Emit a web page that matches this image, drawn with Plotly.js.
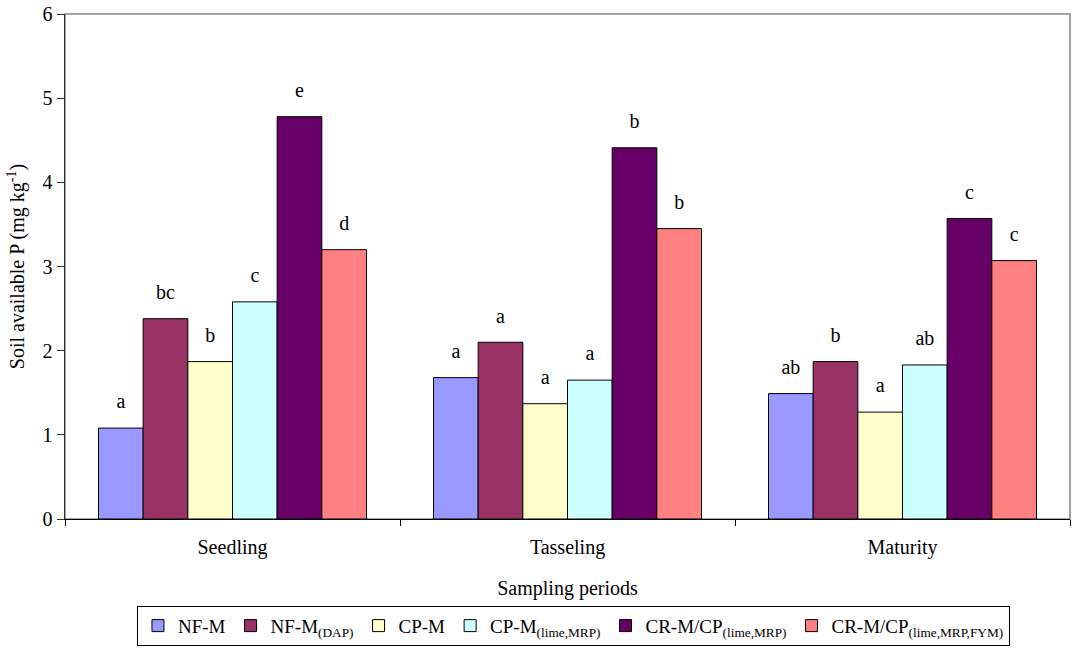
<!DOCTYPE html>
<html>
<head>
<meta charset="utf-8">
<script src="https://cdn.plot.ly/plotly-3.0.1.min.js"></script>
<style>html,body{margin:0;padding:0;background:#fff;}#chart{width:1088px;height:649px;}</style>
</head>
<body>
<div id="chart"></div>
<script>
const categories = ["Seedling", "Tasseling", "Maturity"];
const seriesNames = ["NF-M", "NF-M<sub>(DAP)</sub>", "CP-M", "CP-M<sub>(lime,MRP)</sub>", "CR-M/CP<sub>(lime,MRP)</sub>", "CR-M/CP<sub>(lime,MRP,FYM)</sub>"];
const nfM      = [1.08, 1.68, 1.49];
const nfMDap   = [2.38, 2.10, 1.87];
const cpM      = [1.87, 1.37, 1.27];
const cpMLime  = [2.58, 1.65, 1.83];
const crMCp    = [4.78, 4.41, 3.57];
const crMCpFym = [3.20, 3.45, 3.07];
const lettersNfM      = ["a", "a", "ab"];
const lettersNfMDap   = ["bc", "a", "b"];
const lettersCpM      = ["b", "a", "a"];
const lettersCpMLime  = ["c", "a", "ab"];
const lettersCrMCp    = ["e", "b", "c"];
const lettersCrMCpFym = ["d", "b", "c"];
const yTicks = [0, 1, 2, 3, 4, 5, 6];

const values = [nfM, nfMDap, cpM, cpMLime, crMCp, crMCpFym];
const letters = [lettersNfM, lettersNfMDap, lettersCpM, lettersCpMLime, lettersCrMCp, lettersCrMCpFym];
const colors = ["#9999FF", "#993366", "#FFFFCC", "#CCFFFF", "#660066", "#FF8080"];
const font = "Liberation Serif, Times New Roman, serif";

const traces = [];
values.forEach((v, i) => {
  traces.push({
    type: "bar", x: categories, y: v, name: seriesNames[i],
    offsetgroup: "g" + i, alignmentgroup: "a",
    marker: {color: colors[i], line: {color: "#000", width: 1}},
    hoverinfo: "skip"
  });
});
values.forEach((v, i) => {
  traces.push({
    type: "scatter", mode: "markers+text", x: categories, y: v,
    offsetgroup: "g" + i, alignmentgroup: "a",
    text: letters[i], textposition: "top center",
    textfont: {family: font, size: 20, color: "#000"},
    marker: {size: 22, opacity: 0},
    showlegend: false, hoverinfo: "skip", cliponaxis: false
  });
});

const layout = {
  width: 1088, height: 649,
  margin: {l: 65, r: 18, t: 14, b: 130, autoexpand: false},
  paper_bgcolor: "#fff", plot_bgcolor: "#fff",
  barmode: "group", bargap: 0.2, bargroupgap: 0,
  scattermode: "group", scattergap: 0.2,
  font: {family: font, size: 19, color: "#000"},
  xaxis: {
    type: "category", showline: true, linecolor: "#000", linewidth: 1,
    ticks: "outside", tickson: "boundaries", ticklen: 6, tickcolor: "#000",
    ticklabelstandoff: 10,
    showgrid: false, zeroline: false,
    tickfont: {family: font, size: 20},
    title: {text: "Sampling periods", font: {family: font, size: 20}, standoff: 22}
  },
  yaxis: {
    range: [0, 6], tickvals: yTicks, showline: true, linecolor: "#333", linewidth: 1.5,
    ticks: "outside", ticklen: 7, tickcolor: "#333",
    showgrid: false, zeroline: false,
    tickfont: {family: font, size: 20},
    title: {text: "Soil available P (mg kg<sup>-1</sup>)", font: {family: font, size: 20}, standoff: 12}
  },
  shapes: [{type: "rect", xref: "paper", yref: "paper", x0: 0, x1: 1, y0: 0, y1: 1,
            line: {color: "#888", width: 1.5}, layer: "below"}],
  legend: {
    orientation: "h", x: 0.0716, xanchor: "left", y: -0.251, yanchor: "bottom",
    bordercolor: "#000", borderwidth: 1, bgcolor: "#fff",
    font: {family: font, size: 19}, traceorder: "normal",
    itemwidth: 30, tracegroupgap: 0, valign: "middle"
  },
  showlegend: true
};

Plotly.newPlot("chart", traces, layout, {displayModeBar: false, staticPlot: true});
</script>
</body>
</html>
